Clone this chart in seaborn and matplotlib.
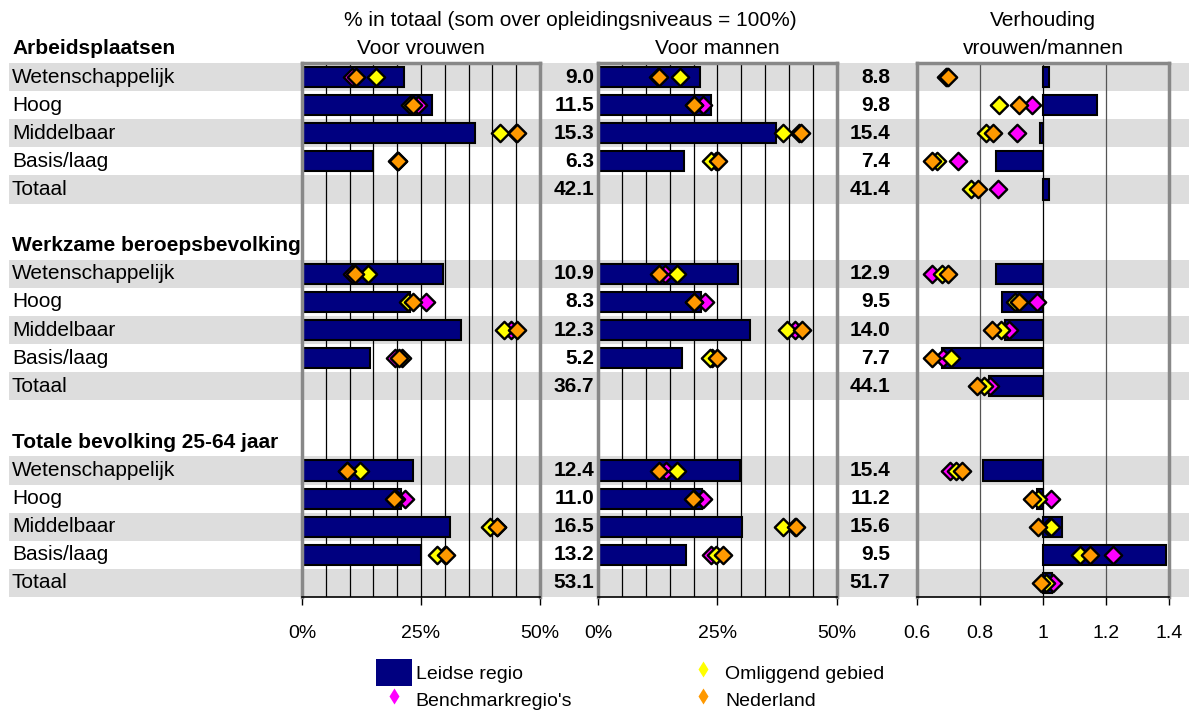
import numpy as np
import pandas as pd
import matplotlib
matplotlib.use("Agg")
import matplotlib.pyplot as plt
from matplotlib.lines import Line2D
from matplotlib.patches import Patch
import seaborn as sns

# Data
secties = ["Arbeidsplaatsen", "Werkzame beroepsbevolking", "Totale bevolking 25-64 jaar"]
niveaus = ["Wetenschappelijk", "Hoog", "Middelbaar", "Basis/laag", "Totaal"]

# absolute numbers shown next to the panels
aantal_vrouwen = [9.0, 11.5, 15.3, 6.3, 42.1, 10.9, 8.3, 12.3, 5.2, 36.7, 12.4, 11.0, 16.5, 13.2, 53.1]
aantal_mannen = [8.8, 9.8, 15.4, 7.4, 41.4, 12.9, 9.5, 14.0, 7.7, 44.1, 15.4, 11.2, 15.6, 9.5, 51.7]

nan = np.nan
# share in % - women
leiden_vrouwen = [21.4, 27.3, 36.3, 15.0, nan, 29.7, 22.6, 33.5, 14.2, nan, 23.4, 20.7, 31.1, 24.9, nan]
omliggend_vrouwen = [15.5, 22.7, 41.5, 20.0, nan, 13.9, 22.3, 42.5, 21.0, nan, 12.2, 19.8, 39.5, 28.3, nan]
benchmark_vrouwen = [10.6, 24.4, 45.0, 20.1, nan, 10.5, 26.0, 44.0, 19.5, nan, 9.4, 21.6, 41.0, 30.0, nan]
nederland_vrouwen = [11.3, 23.4, 45.2, 20.2, nan, 11.1, 23.4, 45.1, 20.4, nan, 9.5, 19.3, 41.0, 30.3, nan]

# share in % - men
leiden_mannen = [21.3, 23.7, 37.2, 17.9, nan, 29.3, 21.5, 31.7, 17.5, nan, 29.8, 21.7, 30.2, 18.4, nan]
omliggend_mannen = [17.2, 20.0, 38.8, 23.6, nan, 16.5, 20.0, 39.6, 23.4, nan, 16.5, 20.0, 38.6, 24.7, nan]
benchmark_mannen = [12.5, 22.0, 42.0, 24.6, nan, 14.0, 22.4, 41.2, 23.8, nan, 14.2, 22.0, 41.2, 23.6, nan]
nederland_mannen = [12.8, 20.1, 42.4, 25.2, nan, 12.8, 20.1, 42.6, 25.0, nan, 12.8, 19.9, 41.4, 26.2, nan]

# ratio women/men
leiden_ratio = [1.02, 1.17, 0.99, 0.85, 1.02, 0.85, 0.87, 0.88, 0.68, 0.83, 0.81, 0.98, 1.06, 1.39, 1.03]
omliggend_ratio = [0.695, 0.86, 0.82, 0.665, 0.77, 0.68, 0.91, 0.867, 0.708, 0.813, 0.724, 0.985, 1.024, 1.117, 1.01]
benchmark_ratio = [0.692, 0.965, 0.918, 0.73, 0.856, 0.647, 0.982, 0.892, 0.684, 0.832, 0.705, 1.025, 1.02, 1.223, 1.033]
nederland_ratio = [0.697, 0.925, 0.842, 0.648, 0.793, 0.699, 0.925, 0.839, 0.649, 0.791, 0.742, 0.964, 0.985, 1.149, 0.994]

# colours
NAVY = "#000080"
YELLOW = "#ffff00"
MAGENTA = "#ff00ff"
ORANGE = "#ff9900"
BAND = "#dddddd"

sns.set_theme(style="white")
plt.rcParams["font.family"] = ["Liberation Sans", "DejaVu Sans"]
plt.rcParams["text.color"] = "black"
plt.rcParams["xtick.color"] = "black"
plt.rcParams["axes.labelcolor"] = "black"

# row layout: header row per section, then five levels, then a blank row
rij = [1 + 7 * s + j for s in range(len(secties)) for j in range(len(niveaus))]
df = pd.DataFrame({
    "rij": rij,
    "niveau": niveaus * len(secties),
    "aantal_v": aantal_vrouwen, "aantal_m": aantal_mannen,
    "leiden_v": leiden_vrouwen, "omliggend_v": omliggend_vrouwen,
    "benchmark_v": benchmark_vrouwen, "nederland_v": nederland_vrouwen,
    "leiden_m": leiden_mannen, "omliggend_m": omliggend_mannen,
    "benchmark_m": benchmark_mannen, "nederland_m": nederland_mannen,
    "leiden_r": leiden_ratio, "omliggend_r": omliggend_ratio,
    "benchmark_r": benchmark_ratio, "nederland_r": nederland_ratio,
})

W, H = 1189, 711
TOP, BOTTOM = 63, 597
fig = plt.figure(figsize=(W / 100, H / 100), dpi=100)


def rect(x0, x1):
    return [x0 / W, 1 - BOTTOM / H, (x1 - x0) / W, (BOTTOM - TOP) / H]


# background: grey bands, row labels and numbers
bg = fig.add_axes(rect(0, W), zorder=0)
bg.set_xlim(0, W)
bg.set_ylim(19.5, 0.5)
bg.axis("off")
for r, niv in zip(df["rij"], df["niveau"]):
    if niveaus.index(niv) % 2 == 0:
        bg.axhspan(r - 0.5, r + 0.5, xmin=9 / W, xmax=1, color=BAND, lw=0)
    bg.text(12, r, niv, va="center", ha="left", fontsize=15)
for s, sectie in enumerate(secties):
    bg.text(12, 7 * s, sectie, va="center", ha="left", fontsize=15, fontweight="bold")
for r, v, m in zip(df["rij"], df["aantal_v"], df["aantal_m"]):
    bg.text(594, r, f"{v:.1f}", va="center", ha="right", fontsize=15, fontweight="bold")
    bg.text(890, r, f"{m:.1f}", va="center", ha="right", fontsize=15, fontweight="bold")

bg.text(570, -1.0, "% in totaal (som over opleidingsniveaus = 100%)", ha="center", va="center", fontsize=15)
bg.text(421, 0, "Voor vrouwen", ha="center", va="center", fontsize=15)
bg.text(717, 0, "Voor mannen", ha="center", va="center", fontsize=15)
bg.text(1043, -1.0, "Verhouding", ha="center", va="center", fontsize=15)
bg.text(1043, 0, "vrouwen/mannen", ha="center", va="center", fontsize=15)


def draw_panel(ax, key, left, xlim, grid, ticks, ticklabels):
    ax.set_facecolor("none")
    for g in grid:
        ax.axvline(g, color="black" if g == 1.0 or left == 0 else "#555555", lw=0.9, zorder=1)
    bars = df.dropna(subset=["leiden_" + key])
    ax.barh(bars["rij"], bars["leiden_" + key] - left, left=left, height=0.72,
            color=NAVY, edgecolor="black", lw=1.5, zorder=2)
    for serie, kleur in [("benchmark_", MAGENTA), ("omliggend_", YELLOW), ("nederland_", ORANGE)]:
        sns.scatterplot(data=df, x=serie + key, y="rij", marker="D", s=78, color=kleur,
                        edgecolor="black", linewidth=1.7, ax=ax, zorder=3)
    ax.set_xlim(*xlim)
    ax.set_ylim(19.5, 0.5)
    ax.set_yticks([])
    ax.set_xticks(ticks)
    ax.set_xticklabels(ticklabels)
    ax.set_xlabel("")
    ax.set_ylabel("")
    ax.tick_params(axis="x", bottom=True, direction="out", length=6, width=1,
                   color="black", labelcolor="black", pad=14, labelsize=14)
    for side in ["top", "left", "right"]:
        ax.spines[side].set_color("#888888")
        ax.spines[side].set_linewidth(2.5)
    ax.spines["bottom"].set_color("black")
    ax.spines["bottom"].set_linewidth(1.2)


ax1 = fig.add_axes(rect(302, 540), zorder=1)
draw_panel(ax1, "v", 0, (0, 50), range(5, 50, 5), [0, 25, 50], ["0%", "25%", "50%"])
ax2 = fig.add_axes(rect(598, 837), zorder=1)
draw_panel(ax2, "m", 0, (0, 50), range(5, 50, 5), [0, 25, 50], ["0%", "25%", "50%"])
ax3 = fig.add_axes(rect(917, 1169), zorder=1)
draw_panel(ax3, "r", 1.0, (0.6, 1.4), [0.8, 1.0, 1.2], [0.6, 0.8, 1.0, 1.2, 1.4],
           ["0.6", "0.8", "1", "1.2", "1.4"])

# legend
handles = [
    Patch(facecolor=NAVY, edgecolor="none"),
    Line2D([], [], ls="none", marker="d", markersize=8, markerfacecolor=MAGENTA, markeredgecolor="none"),
    Line2D([], [], ls="none", marker="d", markersize=8, markerfacecolor=YELLOW, markeredgecolor="none"),
    Line2D([], [], ls="none", marker="d", markersize=8, markerfacecolor=ORANGE, markeredgecolor="none"),
]
labels = ["Leidse regio", "Benchmarkregio's", "Omliggend gebied", "Nederland"]
fig.legend(handles, labels, ncol=2, loc="upper left", bbox_to_anchor=(376 / W, 1 - 659 / H),
           frameon=False, fontsize=14, handlelength=1.85, handleheight=1.75,
           labelspacing=0.0, handletextpad=0.2, columnspacing=5.8,
           borderpad=0, borderaxespad=0)

fig.savefig("out.png", dpi=100)
